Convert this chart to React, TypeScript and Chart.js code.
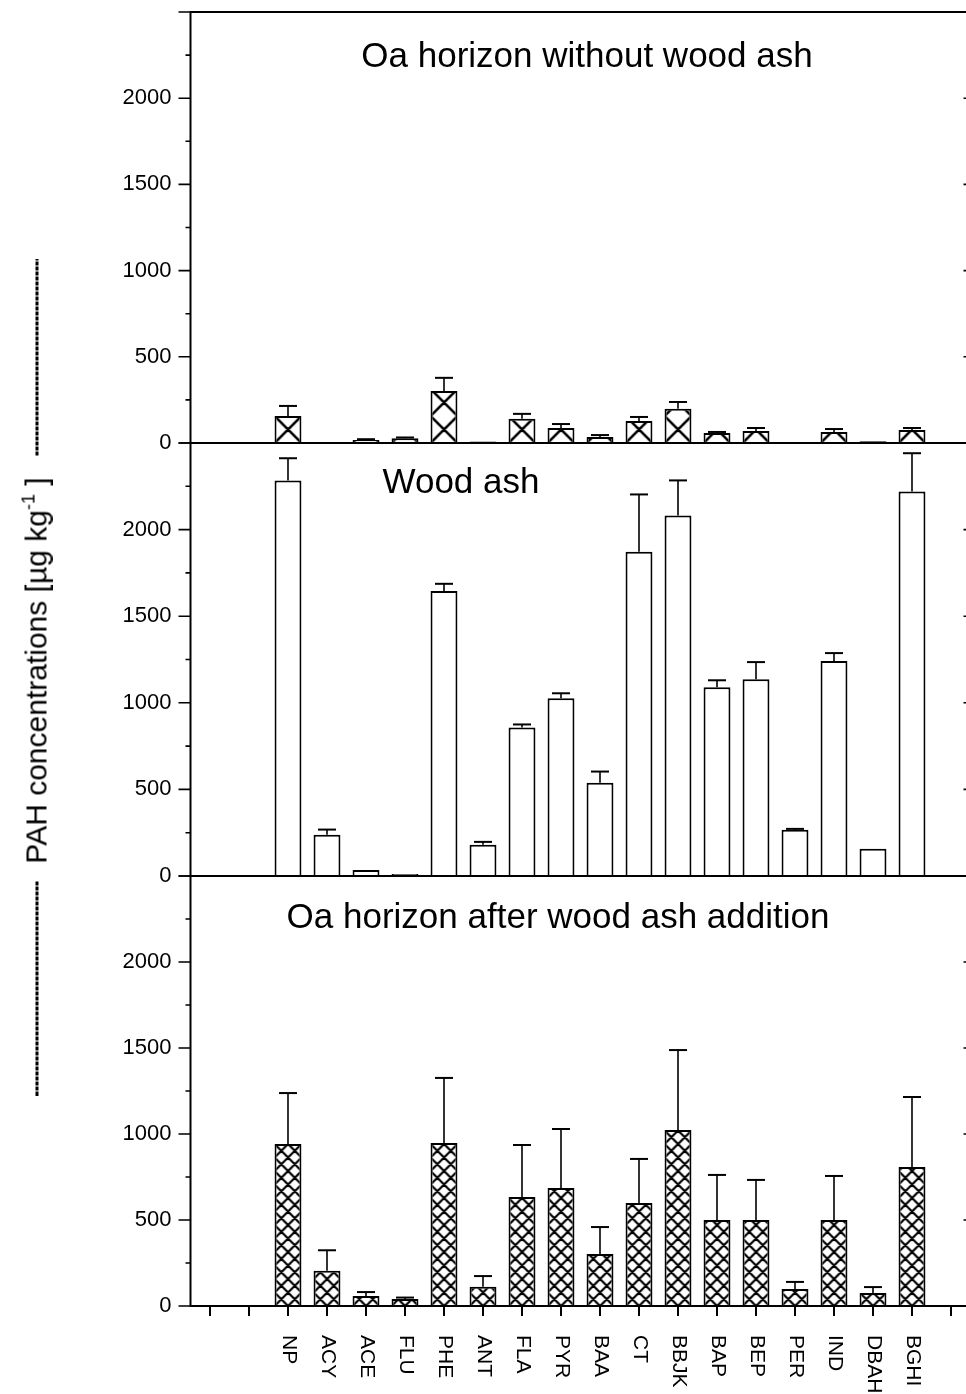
import React, { useEffect, useRef } from 'react';
import { Chart, registerables } from 'chart.js';

Chart.register(...registerables);

// ---------------- data ----------------
const categories = ['', '', 'NP', 'ACY', 'ACE', 'FLU', 'PHE', 'ANT', 'FLA', 'PYR', 'BAA', 'CT', 'BBJK', 'BAP', 'BEP', 'PER', 'IND', 'DBAH', 'BGHI', ''];

const withoutAsh = [null, null, 157, 5, 17, 27, 302, 8, 140, 87, 35, 128, 198, 58, 70, 4, 64, 10, 76, null];
const withoutAshErr = [null, null, 58, 0, 5, 5, 76, 0, 29, 23, 11, 23, 40, 6, 17, 0, 17, 0, 11, null];

const woodAsh = [null, null, 2284, 238, 35, 12, 1646, 180, 858, 1026, 539, 1872, 2081, 1090, 1136, 267, 1241, 157, 2220, null];
const woodAshErr = [null, null, 128, 30, 0, 0, 41, 17, 17, 29, 64, 331, 203, 40, 99, 5, 46, 0, 221, null];

const afterAsh = [null, null, 942, 205, 58, 41, 948, 112, 634, 686, 302, 599, 1023, 500, 500, 99, 500, 76, 808, null];
const afterAshErr = [null, null, 296, 119, 23, 8, 378, 62, 302, 343, 157, 256, 465, 262, 233, 41, 256, 34, 407, null];

const yMin = 0;
const yMax = 2500;
const yMajorStep = 500;
const yMinorStep = 250;
const yLabelMax = 2000;

const panelTitles = ['Oa horizon without wood ash', 'Wood ash', 'Oa horizon after wood ash addition'];
const yAxisTitle = 'PAH concentrations [µg kg';

// ---------------- layout ----------------
const FONT = '"Liberation Sans", Arial, Helvetica, sans-serif';
const CANVAS_W = 1000;
const PLOT_LEFT = 190.5;
const PLOT_RIGHT = 970.5;
const BAR_PCT = 0.69;

type PanelCfg = {
  top: number;
  height: number;
  padTop: number;
  padBottom: number;
  values: (number | null)[];
  errors: (number | null)[];
  hatch: { size: number; n: number } | null;
  title: string;
  titleX: number;
  titleDY: number;
  topBorder: boolean;
  showX: boolean;
};

const panels: PanelCfg[] = [
  { top: 0, height: 460, padTop: 12, padBottom: 17, values: withoutAsh, errors: withoutAshErr, hatch: { size: 27, n: 1 }, title: panelTitles[0], titleX: 587, titleDY: 45, topBorder: true, showX: false },
  { top: 430, height: 460, padTop: 13, padBottom: 14, values: woodAsh, errors: woodAshErr, hatch: null, title: panelTitles[1], titleX: 461, titleDY: 40, topBorder: false, showX: false },
  { top: 850, height: 544, padTop: 26, padBottom: 88, values: afterAsh, errors: afterAshErr, hatch: { size: 27, n: 2 }, title: panelTitles[2], titleX: 558, titleDY: 42, topBorder: false, showX: true },
];

function makeTile(size: number, n: number): HTMLCanvasElement {
  const c = document.createElement('canvas');
  c.width = size;
  c.height = size;
  const g = c.getContext('2d')!;
  g.fillStyle = '#fff';
  g.fillRect(0, 0, size, size);
  g.strokeStyle = '#000';
  g.lineWidth = n === 1 ? 2.6 : 2.2;
  g.beginPath();
  const p = size / n;
  for (let k = -n - 1; k <= 2 * n + 1; k++) {
    const dx = k * p;
    g.moveTo(dx, 0);
    g.lineTo(dx + size, size);
    g.moveTo(dx + size, 0);
    g.lineTo(dx, size);
  }
  g.stroke();
  return c;
}

function framePlugin(cfg: PanelCfg) {
  return {
    id: 'frame',
    afterDatasetsDraw(chart: any) {
      const { ctx, chartArea: a, scales } = chart;
      const x = scales.x;
      const y = scales.y;
      ctx.save();
      ctx.strokeStyle = '#000';
      ctx.fillStyle = '#000';
      ctx.lineCap = 'butt';

      // error bars
      const meta = chart.getDatasetMeta(0);
      meta.data.forEach((bar: any, i: number) => {
        const v = cfg.values[i];
        const e = cfg.errors[i];
        if (v == null || !e) return;
        const px = bar.x;
        const y0 = y.getPixelForValue(v);
        const y1 = y.getPixelForValue(v + e);
        ctx.lineWidth = 1.6;
        ctx.beginPath();
        ctx.moveTo(px, y0);
        ctx.lineTo(px, y1);
        ctx.stroke();
        ctx.lineWidth = 2;
        ctx.beginPath();
        ctx.moveTo(px - 9, y1);
        ctx.lineTo(px + 9, y1);
        ctx.stroke();
      });

      // axes
      ctx.lineWidth = 2;
      ctx.beginPath();
      ctx.moveTo(a.left, a.top);
      ctx.lineTo(a.left, a.bottom);
      const base = y.getPixelForValue(0);
      ctx.moveTo(a.left - 1, base);
      ctx.lineTo(a.right, base);
      if (cfg.topBorder) {
        ctx.moveTo(a.left - 1, a.top);
        ctx.lineTo(a.right, a.top);
      }
      ctx.stroke();

      // y ticks
      ctx.lineWidth = 1.6;
      ctx.beginPath();
      for (let v = yMin; v <= yMax; v += yMinorStep) {
        const py = y.getPixelForValue(v);
        const major = v % yMajorStep === 0;
        const len = major ? 12 : 5;
        ctx.moveTo(a.left - len, py);
        ctx.lineTo(a.left, py);
        if (major) {
          ctx.moveTo(a.right - 7, py);
          ctx.lineTo(a.right, py);
        }
      }
      ctx.stroke();

      // x ticks + labels
      if (cfg.showX) {
        ctx.lineWidth = 2;
        ctx.beginPath();
        categories.forEach((_, i) => {
          const px = x.getPixelForValue(i);
          ctx.moveTo(px, a.bottom);
          ctx.lineTo(px, a.bottom + 10);
        });
        ctx.stroke();
        ctx.font = `21px ${FONT}`;
        ctx.textAlign = 'left';
        ctx.textBaseline = 'middle';
        categories.forEach((lab, i) => {
          if (!lab) return;
          const px = x.getPixelForValue(i);
          ctx.save();
          ctx.translate(px + 1, a.bottom + 29);
          ctx.rotate(Math.PI / 2);
          ctx.fillText(lab, 0, 0);
          ctx.restore();
        });
      }

      // panel title
      ctx.font = `35px ${FONT}`;
      ctx.textAlign = 'center';
      ctx.textBaseline = 'middle';
      ctx.fillText(cfg.title, cfg.titleX, a.top + cfg.titleDY);
      ctx.restore();
    },
  };
}

function Panel({ cfg }: { cfg: PanelCfg }) {
  const ref = useRef<HTMLCanvasElement>(null);
  useEffect(() => {
    const canvas = ref.current!;
    const tile = cfg.hatch ? makeTile(cfg.hatch.size, cfg.hatch.n) : null;
    const chart = new Chart(canvas, {
      type: 'bar',
      data: {
        labels: categories,
        datasets: [
          {
            data: cfg.values as any,
            backgroundColor: (c: any) => {
              if (!tile) return '#ffffff';
              const ch = c.chart;
              const xs = ch.scales?.x;
              const ys = ch.scales?.y;
              if (!xs || !ys || !ch.chartArea) return '#ffffff';
              const pat = ch.ctx.createPattern(tile, 'repeat');
              const cw = (PLOT_RIGHT - PLOT_LEFT) / categories.length;
              const left = xs.getPixelForValue(c.dataIndex) - (cw * BAR_PCT) / 2;
              const base = ys.getPixelForValue(0);
              if (pat && (pat as any).setTransform) {
                pat.setTransform(new DOMMatrix([1, 0, 0, 1, left, base]));
              }
              return pat || '#ffffff';
            },
            borderColor: '#000',
            borderWidth: 2,
            borderSkipped: 'bottom',
            barPercentage: BAR_PCT,
            categoryPercentage: 1,
          } as any,
        ],
      },
      options: {
        responsive: false,
        animation: false,
        events: [],
        layout: { padding: { top: cfg.padTop, bottom: cfg.padBottom, left: 0, right: CANVAS_W - PLOT_RIGHT } },
        plugins: { legend: { display: false }, tooltip: { enabled: false }, title: { display: false } },
        scales: {
          x: { type: 'category', display: false, offset: true },
          y: {
            min: yMin,
            max: yMax,
            position: 'left',
            afterFit: (s: any) => {
              s.width = PLOT_LEFT;
              s.paddingTop = 0;
              s.paddingBottom = 0;
            },
            grid: { display: true, drawOnChartArea: false, drawTicks: false },
            border: { display: false },
            ticks: {
              stepSize: yMajorStep,
              padding: 19,
              color: '#000',
              font: { family: FONT, size: 22 },
              callback: (v: any) => (Number(v) <= yLabelMax ? String(v) : ''),
            },
          },
        },
      } as any,
      plugins: [framePlugin(cfg)],
    });
    return () => chart.destroy();
  }, []);
  return (
    <canvas
      ref={ref}
      width={CANVAS_W}
      height={cfg.height}
      style={{ position: 'absolute', left: 0, top: cfg.top, width: CANVAS_W, height: cfg.height }}
    />
  );
}

const dash: React.CSSProperties = {
  position: 'absolute',
  top: 14,
  height: 3,
  background: 'repeating-linear-gradient(to right, #000 0 4px, transparent 4px 5px)',
};

export default function App() {
  const LEN = 837;
  const cx = 36;
  const cy = 676.5;
  return (
    <div style={{ position: 'fixed', left: 0, top: 0, width: 966, height: 1394, overflow: 'hidden', background: '#fff' }}>
      {panels.map((p, i) => (
        <Panel key={i} cfg={p} />
      ))}
      <div
        style={{
          position: 'absolute',
          left: cx - LEN / 2,
          top: cy - 15,
          width: LEN,
          height: 30,
          transform: 'rotate(-90deg)',
          fontFamily: FONT,
          fontSize: 30,
          color: '#000',
        }}
      >
        <div style={{ ...dash, left: 0, width: 215 }} />
        <div
          style={{
            position: 'absolute',
            left: 425,
            top: 0,
            height: 30,
            lineHeight: '30px',
            whiteSpace: 'nowrap',
            transform: 'translateX(-50%)',
          }}
        >
          {yAxisTitle}
          <sup style={{ fontSize: '0.6em', verticalAlign: 'top', lineHeight: '14px' }}>-1</sup> ]
        </div>
        <div style={{ ...dash, left: 640, width: 197 }} />
      </div>
    </div>
  );
}
